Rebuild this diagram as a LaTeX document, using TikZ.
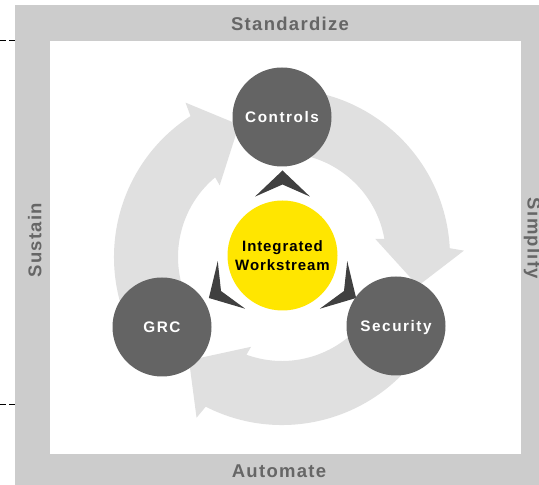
\documentclass[tikz,border=0pt]{standalone}
\usepackage{fontspec}
\setmainfont{Liberation Sans}
\usetikzlibrary{calc}

\definecolor{grigiocornice}{HTML}{CCCCCC}
\definecolor{grigiotesto}{HTML}{666666}
\definecolor{grigioanello}{HTML}{E0E0E0}
\definecolor{grigiocerchio}{HTML}{646464}
\definecolor{grigiopunta}{HTML}{404040}
\definecolor{giallo}{HTML}{FFE600}

\newfontfamily\fontcornice[LetterSpace=7]{Liberation Sans}
\newfontfamily\fontcerchio[LetterSpace=10]{Liberation Sans}
\newfontfamily\fontcentro[LetterSpace=6]{Liberation Sans}

\begin{document}
\begin{tikzpicture}[x=1pt, y=1pt,
    anello/.style={fill=grigioanello},
    punta/.style={fill=grigiopunta},
    cerchio/.style={circle, fill=grigiocerchio, minimum size=99pt, inner sep=0pt,
        text=white, text height=10.8pt, text depth=0pt,
        font=\fontcerchio\bfseries\fontsize{15.3}{18}\selectfont},
    lato/.style={text=grigiotesto, anchor=base, inner sep=0pt,
        font=\fontcornice\bfseries\fontsize{18.5}{22}\selectfont}]

    \useasboundingbox (0,0) rectangle (539,485);

    % Comando \freccia: un tratto dell'anello con la sua punta (angolo di partenza)
    \def\freccia#1{%
        \fill[anello] ($(C)+(#1:168pt)$) arc[start angle=#1, end angle=#1-87, radius=168pt]
            -- ($(C)+(#1-88:182pt)$) -- ($(C)+(#1-102:139pt)$)
            -- ($(C)+(#1-79:95pt)$) -- ($(C)+(#1-80:104pt)$)
            arc[start angle=#1-80, end angle=#1, radius=104pt] -- cycle;%
    }
    % Comando \puntina: punta scura attorno al centro
    \def\puntina#1{%
        \fill[punta] ($(Y)+(#1:85pt)$) -- ($(Y)+(#1+25:65pt)$)
            -- ($(Y)+(#1:71pt)$) -- ($(Y)+(#1-25:65pt)$) -- cycle;%
    }

    % -- Cornice grigia --
    \fill[grigiocornice] (15,0) rectangle (539,480);
    \fill[white] (50,31) rectangle (521,444);
    \draw[line width=0.8pt, dash pattern=on 6pt off 3pt] (0,445) -- (15,445);
    \draw[line width=0.8pt, dash pattern=on 6pt off 3pt] (0,81) -- (15,81);

    \node[lato] (standardize) at (290,454) {Standardize};
    \node[lato] (automate) at (279,7) {Automate};
    \node[lato, rotate=90] (sustain) at (41.5,245) {Sustain};
    \node[lato, rotate=-90] (simplify) at (527.5,246.5) {Simplify};

    % -- Anello con le tre frecce --
    \coordinate (C) at (282,228);
    \freccia{210}
    \freccia{90}
    \freccia{-30}

    % -- Punte scure --
    \coordinate (Y) at (282.5,229.5);
    \puntina{90}
    \puntina{210}
    \puntina{330}

    % -- Cerchi --
    \node[circle, fill=giallo, minimum size=110pt, inner sep=0pt, align=center,
        font=\fontcentro\bfseries\fontsize{15}{19.5}\selectfont] (centro) at (Y) {Integrated\\Workstream};

    \node[cerchio] (controls) at (282,368) {Controls};
    \node[cerchio] (grc) at (162,158) {GRC};
    \node[cerchio] (security) at (396,159) {Security};
\end{tikzpicture}
\end{document}
